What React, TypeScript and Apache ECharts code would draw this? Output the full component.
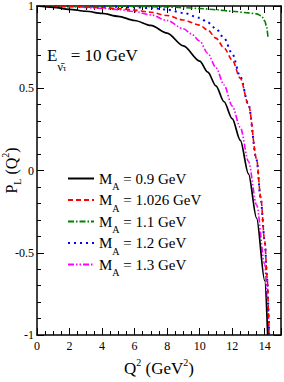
import React, { useEffect, useRef } from "react";
import * as echarts from "echarts";

// ---- data ----
const massLabels = ["0.9", "1.026", "1.1", "1.2", "1.3"];

const q2_09 = [0, 1, 2, 3, 4, 5, 6, 7, 8, 9, 10, 10.5, 11, 11.5, 12, 12.5, 13, 13.5, 14, 14.18];
const pl_09 = [1, 0.992, 0.98, 0.968, 0.955, 0.937, 0.912, 0.882, 0.835, 0.757, 0.665, 0.598, 0.515, 0.418, 0.315, 0.183, -0.02, -0.29, -0.67, -1];

const q2_1026 = [0, 2, 4, 5, 6, 7, 8, 9, 10, 10.5, 11, 11.5, 12, 12.5, 13, 13.5, 13.75, 14, 14.15, 14.26];
const pl_1026 = [1, 0.997, 0.99, 0.984, 0.975, 0.962, 0.942, 0.915, 0.884, 0.853, 0.805, 0.745, 0.672, 0.56, 0.4, 0.07, -0.16, -0.43, -0.65, -1];

const q2_11 = [0, 4, 6, 8, 9, 10, 11, 12, 13, 13.5, 13.8, 14, 14.1, 14.2];
const pl_11 = [1, 1, 0.998, 0.994, 0.99, 0.985, 0.977, 0.968, 0.958, 0.952, 0.94, 0.91, 0.88, 0.81];

const q2_12 = [0, 2, 4, 6, 7, 8, 9, 10, 10.5, 11, 11.5, 12, 12.5, 13, 13.5, 13.75, 14, 14.15, 14.27];
const pl_12 = [1, 0.999, 0.997, 0.992, 0.987, 0.978, 0.958, 0.928, 0.9, 0.862, 0.805, 0.71, 0.57, 0.4, 0.065, -0.17, -0.43, -0.66, -1];

const q2_13 = [0, 2, 4, 5, 6, 7, 8, 9, 9.5, 10, 10.5, 11, 11.5, 12, 12.5, 13, 13.5, 14, 14.2, 14.26];
const pl_13 = [1, 0.995, 0.986, 0.978, 0.966, 0.946, 0.912, 0.862, 0.83, 0.787, 0.712, 0.625, 0.52, 0.392, 0.262, 0.055, -0.21, -0.57, -0.85, -1];

const xLabelMax = 14;

const FONT = "Liberation Serif, Times New Roman, serif";

const zip = (xs: number[], ys: number[]) => xs.map((x, i) => [x, ys[i]]);

export default function App() {
  const ref = useRef<HTMLDivElement>(null);

  useEffect(() => {
    if (!ref.current) return;
    const chart = echarts.init(ref.current, undefined, { renderer: "svg" });

    const seriesDefs = [
      { data: zip(q2_09, pl_09), color: "#000000", type: "solid" as any, width: 1.7 },
      { data: zip(q2_1026, pl_1026), color: "#ff0000", type: [5, 3], width: 1.6 },
      { data: zip(q2_11, pl_11), color: "#008000", type: [6, 2, 1.5, 2], width: 1.6 },
      { data: zip(q2_12, pl_12), color: "#0000ff", type: [2, 4], width: 2 },
      { data: zip(q2_13, pl_13), color: "#ff00ff", type: [6, 2, 1.5, 2, 1.5, 2], width: 1.6 },
    ];

    const names = massLabels.map((m) => `M_A = ${m} GeV`);

    const axisCommon = {
      axisLine: { show: true, onZero: false, lineStyle: { color: "#000", width: 1.5 } },
      axisTick: { show: true, inside: true, length: 7, lineStyle: { color: "#000", width: 1 } },
      minorTick: { show: true, length: 4, lineStyle: { color: "#000", width: 1 } },
      splitLine: { show: false },
      minorSplitLine: { show: false },
    };

    const xBase = {
      type: "value" as const,
      min: 0,
      max: 15,
      interval: 2,
      ...axisCommon,
      minorTick: { ...axisCommon.minorTick, splitNumber: 4 },
    };
    const yBase = {
      type: "value" as const,
      min: -1,
      max: 1,
      interval: 0.5,
      ...axisCommon,
      minorTick: { ...axisCommon.minorTick, splitNumber: 5 },
    };

    const richMain = { fontFamily: FONT, fontSize: 15, color: "#000", lineHeight: 26 };
    const richSub = { fontFamily: FONT, fontSize: 10, color: "#000", lineHeight: 10, verticalAlign: "bottom" };

    chart.setOption({
      animation: false,
      backgroundColor: "#fff",
      textStyle: { fontFamily: FONT },
      grid: { left: 37, right: 3, top: 6, bottom: 47, containLabel: false, outerBoundsMode: "none" },
      xAxis: [
        {
          ...xBase,
          position: "bottom",
          name: "{m|Q}{sup|2}{m| (GeV}{sup|2}{m|)}",
          nameLocation: "middle",
          nameGap: 22,
          nameMoveOverlap: false,
          nameTextStyle: {
            fontFamily: FONT,
            rich: {
              m: { fontFamily: FONT, fontSize: 17, color: "#000", lineHeight: 22 },
              sup: { fontFamily: FONT, fontSize: 10, color: "#000", lineHeight: 10, verticalAlign: "top" },
            },
          },
          axisLabel: {
            show: true,
            margin: 5,
            color: "#000",
            fontFamily: FONT,
            fontSize: 12,
            formatter: (v: number) => (v > xLabelMax ? "" : String(v)),
          },
        },
        {
          ...xBase,
          position: "top",
          axisLabel: { show: false },
        },
      ],
      yAxis: [
        {
          ...yBase,
          position: "left",
          name: "{m|P}{sub|L}{m| (Q}{sup|2}{m|)}",
          nameLocation: "middle",
          nameRotate: 90,
          nameGap: 15,
          nameMoveOverlap: false,
          nameTextStyle: {
            fontFamily: FONT,
            rich: {
              m: { fontFamily: FONT, fontSize: 16, color: "#000", lineHeight: 22 },
              sub: { fontFamily: FONT, fontSize: 10, color: "#000", lineHeight: 10, verticalAlign: "bottom" },
              sup: { fontFamily: FONT, fontSize: 10, color: "#000", lineHeight: 10, verticalAlign: "top" },
            },
          },
          axisLabel: {
            show: true,
            margin: 3,
            color: "#000",
            fontFamily: FONT,
            fontSize: 12,
          },
        },
        {
          ...yBase,
          position: "right",
          axisLabel: { show: false },
        },
      ],
      legend: {
        orient: "vertical",
        left: 67,
        top: 171,
        itemWidth: 26,
        itemHeight: 10,
        itemGap: 1,
        padding: 0,
        data: names,
        itemStyle: { opacity: 0, borderWidth: 0 },
        textStyle: {
          fontFamily: FONT,
          fontSize: 15,
          color: "#000",
          rich: { m: richMain, s: richSub },
        },
        formatter: (name: string) => {
          const m = massLabels[names.indexOf(name)];
          return `{m|M}{s|A}{m| = ${m} GeV}`;
        },
      },
      graphic: [
        {
          type: "text",
          left: 47,
          top: 47,
          style: {
            text: "{e|E}{nu|\u03bd\u0304}{tau|\u03c4}{e| = 10 GeV}",
            fontFamily: FONT,
            rich: {
              e: { fontFamily: FONT, fontSize: 17, fill: "#000", lineHeight: 34 },
              nu: { fontFamily: FONT, fontSize: 12, fill: "#000", lineHeight: 20, verticalAlign: "bottom" },
              tau: { fontFamily: FONT, fontSize: 9, fill: "#000", lineHeight: 9, verticalAlign: "bottom" },
            },
          },
        },
      ],
      series: seriesDefs.map((s, i) => ({
        name: names[i],
        type: "line",
        xAxisIndex: 0,
        yAxisIndex: 0,
        data: s.data,
        symbol: "none",
        smooth: 0.3,
        smoothMonotone: "x",
        clip: true,
        color: s.color,
        lineStyle: { color: s.color, width: s.width, type: s.type },
        z: 5 - i,
      })),
    });

    return () => chart.dispose();
  }, []);

  return (
    <div
      ref={ref}
      style={{ position: "fixed", left: 0, top: 0, width: 284, height: 382, background: "#fff" }}
    />
  );
}
